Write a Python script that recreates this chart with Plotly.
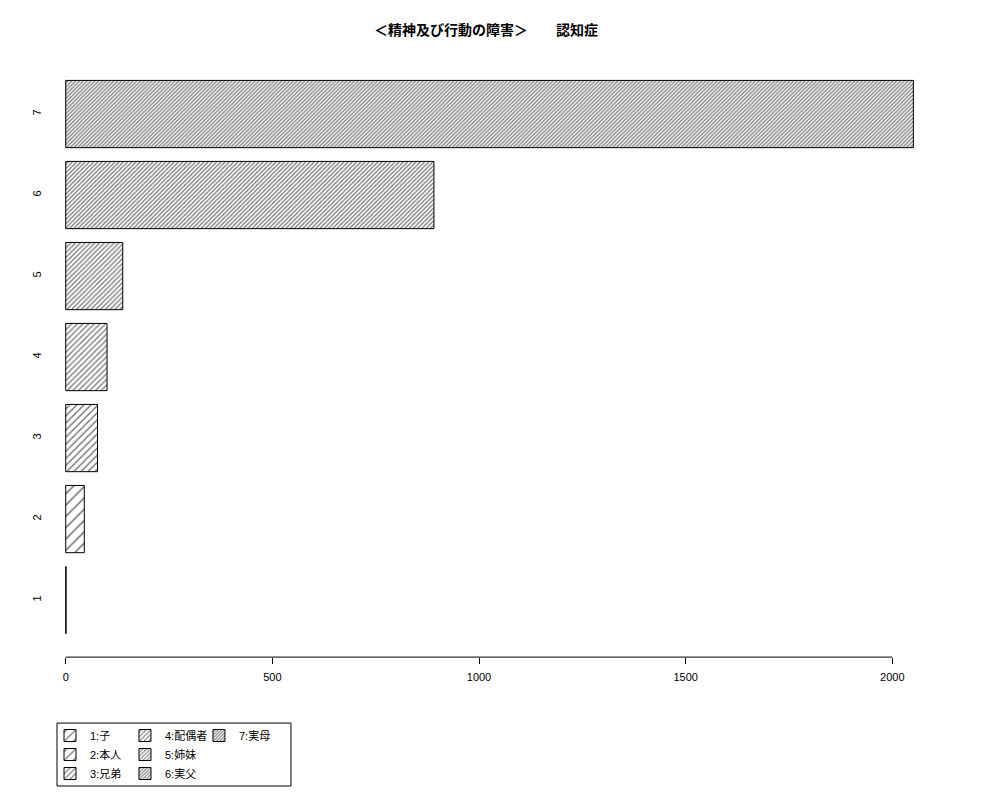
import plotly.graph_objects as go

# data
categories = [1, 2, 3, 4, 5, 6, 7]
values = [1, 45, 77, 100, 138, 891, 2051]
legend_labels = ["1:子", "2:本人", "3:兄弟", "4:配偶者", "5:姉妹", "6:実父", "7:実母"]
x_ticks = [0, 500, 1000, 1500, 2000]

# hatching style per bar (denser for higher categories)
hatch_size = [8, 8, 5, 4, 3.4, 3, 2.7]
hatch_solidity = [0.22, 0.22, 0.3, 0.35, 0.4, 0.45, 0.5]
legend_group = ["legend", "legend", "legend", "legend2", "legend2", "legend2", "legend3"]

font = "Liberation Sans, Noto Sans CJK JP, sans-serif"

fig = go.Figure()
for i in range(len(categories)):
    fig.add_trace(go.Bar(
        x=[values[i]],
        y=[categories[i]],
        orientation="h",
        width=0.83,
        name=legend_labels[i],
        legend=legend_group[i],
        marker=dict(
            color="white",
            line=dict(color="black", width=1),
            pattern=dict(shape="/", size=hatch_size[i], solidity=hatch_solidity[i],
                         fgcolor="black", bgcolor="white"),
        ),
    ))

# the page body has an 8px margin, so everything is shifted up/left by 8px
leg = dict(yanchor="top", xanchor="left", y=0.1158, bgcolor="rgba(0,0,0,0)",
           itemwidth=30, font=dict(size=11), tracegroupgap=0)

fig.update_layout(
    width=1000,
    height=800,
    barmode="overlay",
    plot_bgcolor="white",
    paper_bgcolor="white",
    font=dict(family=font, size=12, color="black"),
    margin=dict(l=42, r=48, t=48.5, b=0),
    title=dict(text="<b>＜精神及び行動の障害＞　　認知症</b>", x=0.478, xref="container",
               xanchor="center", y=0.9725, yref="container", yanchor="middle",
               font=dict(size=14, family=font)),
    xaxis=dict(range=[-38, 2163.8], tickvals=x_ticks, ticks="outside", ticklen=6,
               tickcolor="black", showgrid=False, zeroline=False, showline=False,
               ticklabelstandoff=4, tickfont=dict(size=11)),
    yaxis=dict(domain=[0.20093, 1], range=[0.296, 7.704], tickvals=categories, tickangle=-90,
               ticks="", showgrid=False, zeroline=False, showline=False, ticklabelstandoff=6,
               tickfont=dict(size=11)),
    legend=dict(leg, x=0.0),
    legend2=dict(leg, x=0.0824),
    legend3=dict(leg, x=0.1637),
    showlegend=True,
)

# R-style axis line from first to last tick
fig.add_shape(type="line", xref="x", yref="y domain", x0=x_ticks[0], x1=x_ticks[-1], y0=0, y1=0,
              line=dict(color="black", width=1))
# legend frame
fig.add_shape(type="rect", xref="paper", yref="paper", x0=0.0077, x1=0.2648, y0=0.1131, y1=0.0293,
              line=dict(color="black", width=1))

fig.write_html("out.html")
